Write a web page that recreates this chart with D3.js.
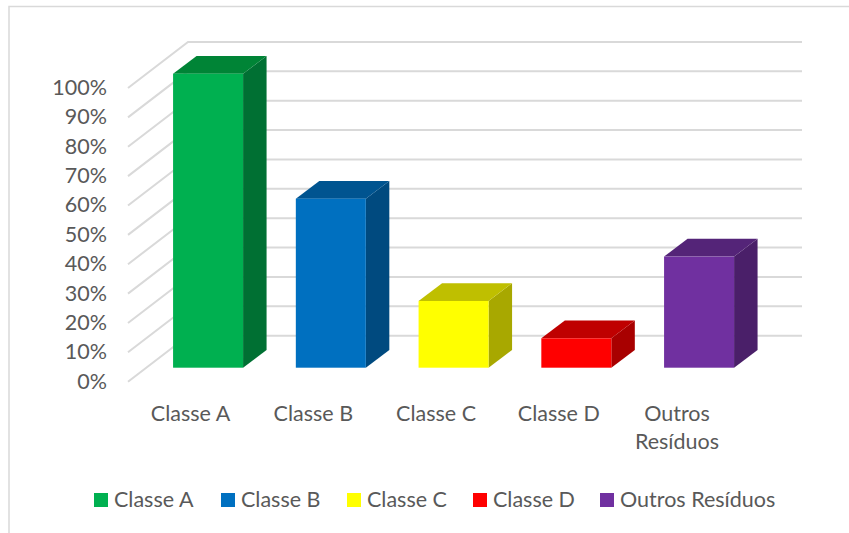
<!DOCTYPE html>
<html><head><meta charset="utf-8">
<script src="https://cdn.jsdelivr.net/npm/d3@7/dist/d3.min.js"></script>
<style>html,body{margin:0;padding:0;background:#fff}svg{display:block}text{font-family:Lato,sans-serif;fill:#595959}</style>
</head><body><svg id="c" width="849" height="533"></svg>
<script>
const categories=["Classe A","Classe B","Classe C","Classe D","Outros Resíduos"];
const values=[100,57.5,22.7,10,37.8];
const fronts=["#00B050","#0070C0","#FFFF00","#FF0000","#7030A0"];
const tops=["#008436","#005490","#BFBF00","#BF0000","#542478"];
const sides=["#007033","#004A7F","#A8A800","#A80000","#4A1F69"];
const ticks=[0,10,20,30,40,50,60,70,80,90,100];
const labelLines=[["Classe A"],["Classe B"],["Classe C"],["Classe D"],["Outros","Resíduos"]];
const legendX=[94,221,347,473,600];

const svg=d3.select("#c");
const FS=21.5;
svg.append("path").attr("d","M849,6.5H9V533").attr("fill","none").attr("stroke","#D9D9D9").attr("stroke-width",1.5);
const x=d3.scaleBand().domain(categories).range([173-26.3,173-26.3+122.75*5]).paddingInner(1-70/122.75).paddingOuter((1-70/122.75)/2);
const yBar=d3.scaleLinear().domain([0,100]).range([367.7,73.7]);
const yAxis=d3.scaleLinear().domain([0,100]).range([381.7,88]);
const yBack=d3.scaleLinear().domain([0,100]).range([335.7,42]);
const dx=23.5,dy=17.7;
const grid=svg.append("g").attr("fill","none").attr("stroke","#D9D9D9").attr("stroke-width",2);
ticks.forEach(t=>{
  grid.append("path").attr("d",d3.line()([[128,yAxis(t)],[188,yBack(t)],[802,yBack(t)]]));
});
const ax=svg.append("g").attr("transform","translate(113,0)").call(d3.axisLeft(yAxis).tickValues(ticks).tickFormat(d=>d+"%").tickSize(0).tickPadding(6));
ax.select(".domain").remove();
ax.selectAll("text").style("font-family","Lato,sans-serif").style("font-size",FS+"px").attr("fill","#595959").attr("dy","0.3em").attr("y",0);
categories.forEach((c,i)=>{
  const x0=x(c),x1=x0+x.bandwidth(),yt=yBar(values[i]),yb=yBar(0);
  const g=svg.append("g");
  g.append("path").attr("fill",sides[i]).attr("d",d3.line()([[x1,yt],[x1+dx,yt-dy],[x1+dx,yb-dy],[x1,yb]])+"Z");
  g.append("path").attr("fill",tops[i]).attr("d",d3.line()([[x0,yt],[x0+dx,yt-dy],[x1+dx,yt-dy],[x1,yt]])+"Z");
  g.append("rect").attr("x",x0).attr("y",yt).attr("width",x.bandwidth()).attr("height",yb-yt).attr("fill",fronts[i]);
  const cx=i===4?677:x0+x.bandwidth()/2-17.5;
  labelLines[i].forEach((l,j)=>{
    svg.append("text").attr("x",cx).attr("y",420.5+j*28.5).attr("text-anchor","middle").style("font-size",FS+"px").text(l);
  });
  svg.append("rect").attr("x",legendX[i]).attr("y",493).attr("width",14).attr("height",14).attr("fill",fronts[i]);
  svg.append("text").attr("x",legendX[i]+20).attr("y",507).style("font-size",FS+"px").text(c);
});
</script></body></html>
